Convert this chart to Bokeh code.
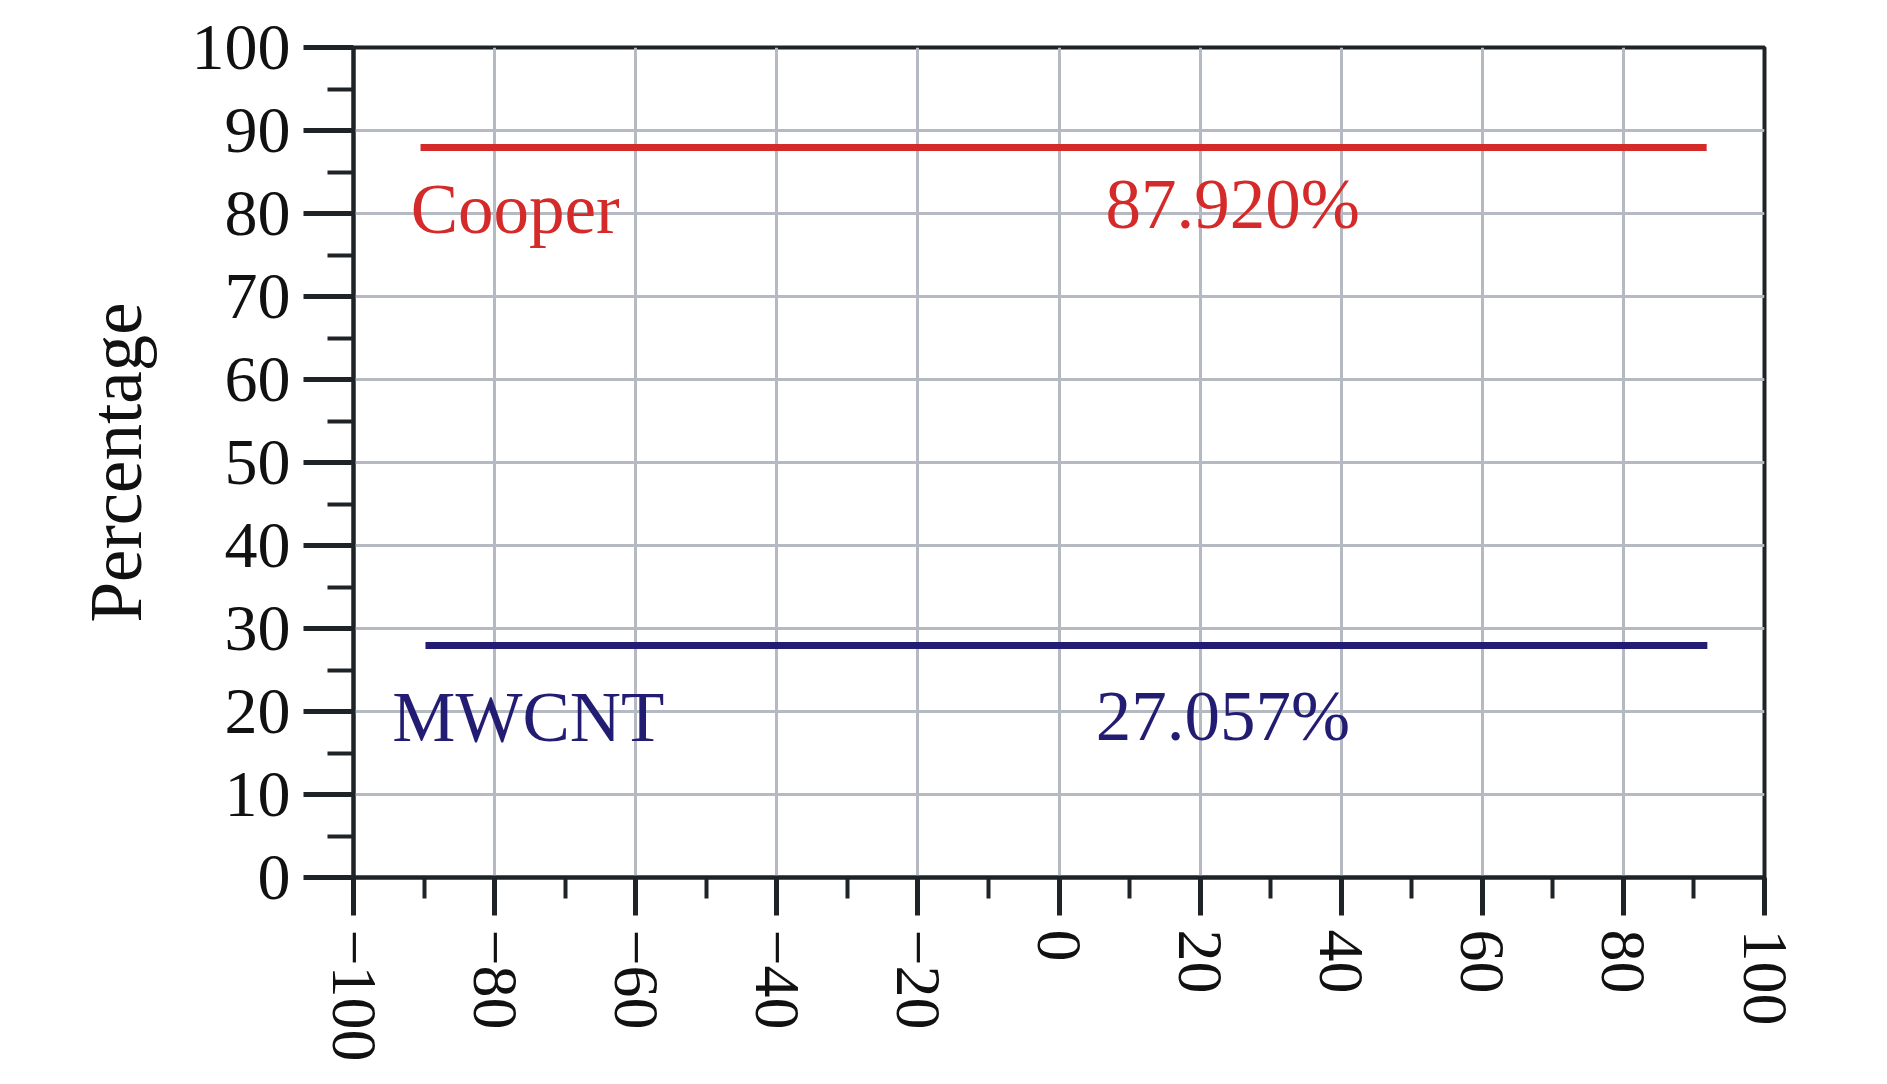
import math
from bokeh.plotting import figure
from bokeh.models import Range1d, FixedTicker
from bokeh.core.properties import value
from bokeh.embed import file_html
from bokeh.resources import INLINE

# ---- data ----
cooper_x = [-90.5, 91.8]
cooper_y = [87.95, 87.95]
mwcnt_x = [-89.8, 91.9]
mwcnt_y = [27.95, 27.95]
series_names = ["Cooper", "MWCNT"]
series_values = ["87.920%", "27.057%"]
x_ticks = [-100, -80, -60, -40, -20, 0, 20, 40, 60, 80, 100]
y_ticks = [0, 10, 20, 30, 40, 50, 60, 70, 80, 90, 100]
y_label = "Percentage"

RED = "#d42a2a"
NAVY = "#221d72"
DARK = "#1e2328"
GRID = "#b5b9c1"
FONT = "Liberation Serif"

W, H = 1870, 1068
p = figure(width=W, height=H, output_backend="svg", toolbar_location=None,
           x_range=Range1d(-100, 100), y_range=Range1d(0, 100),
           min_border_left=353, min_border_right=106,
           min_border_top=47, min_border_bottom=191)
p.background_fill_color = "white"
p.border_fill_color = "white"
p.outline_line_color = DARK
p.outline_line_width = 4

# grids
p.xgrid.ticker = FixedTicker(ticks=x_ticks)
p.ygrid.ticker = FixedTicker(ticks=y_ticks)
for g in (p.xgrid, p.ygrid):
    g.grid_line_color = GRID
    g.grid_line_width = 3

# x axis
xa = p.xaxis[0]
xa.ticker = FixedTicker(ticks=x_ticks,
                        minor_ticks=[t + 10 for t in x_ticks[:-1]])
xa.major_label_overrides = {t: ("\u2212" + str(abs(t)) if t < 0 else str(t)) for t in x_ticks}
xa.major_label_orientation = -math.pi / 2
xa.major_label_standoff = 14
xa.major_tick_out = 38
xa.major_tick_in = 0
xa.minor_tick_out = 21
xa.minor_tick_in = 0

# y axis
ya = p.yaxis[0]
ya.ticker = FixedTicker(ticks=y_ticks,
                        minor_ticks=[t + 5 for t in y_ticks[:-1]])
ya.major_label_standoff = 13
ya.major_tick_out = 50
ya.major_tick_in = 0
ya.minor_tick_out = 26
ya.minor_tick_in = 0
ya.axis_label = y_label
ya.axis_label_standoff = 32
ya.axis_label_text_font = FONT
ya.axis_label_text_font_size = "73px"
ya.axis_label_text_font_style = "normal"
ya.axis_label_text_color = "#111111"

for ax in (xa, ya):
    ax.axis_line_color = DARK
    ax.axis_line_width = 4
    ax.major_tick_line_color = DARK
    ax.major_tick_line_width = 5
    ax.minor_tick_line_color = DARK
    ax.minor_tick_line_width = 4
    ax.major_label_text_font = FONT
    ax.major_label_text_color = "#111111"
xa.major_label_text_font_size = "64px"
ya.major_label_text_font_size = "66px"

# lines
p.line(cooper_x, cooper_y, line_color=RED, line_width=7)
p.line(mwcnt_x, mwcnt_y, line_color=NAVY, line_width=7)

# text annotations (positions in data units)
TS = "71px"
p.text(x=[-91.9], y=[80.6], text=[series_names[0]], text_color=RED,
       text_font=value(FONT), text_font_size=TS, text_baseline="alphabetic")
p.text(x=[6.6], y=[81.2], text=[series_values[0]], text_color=RED,
       text_font=value(FONT), text_font_size=TS, text_baseline="alphabetic")
p.text(x=[-94.5], y=[19.3], text=[series_names[1]], text_color=NAVY,
       text_font=value(FONT), text_font_size=TS, text_baseline="alphabetic")
p.text(x=[5.2], y=[19.5], text=[series_values[1]], text_color=NAVY,
       text_font=value(FONT), text_font_size=TS, text_baseline="alphabetic")

open("out.html", "w").write(file_html(p, INLINE))
